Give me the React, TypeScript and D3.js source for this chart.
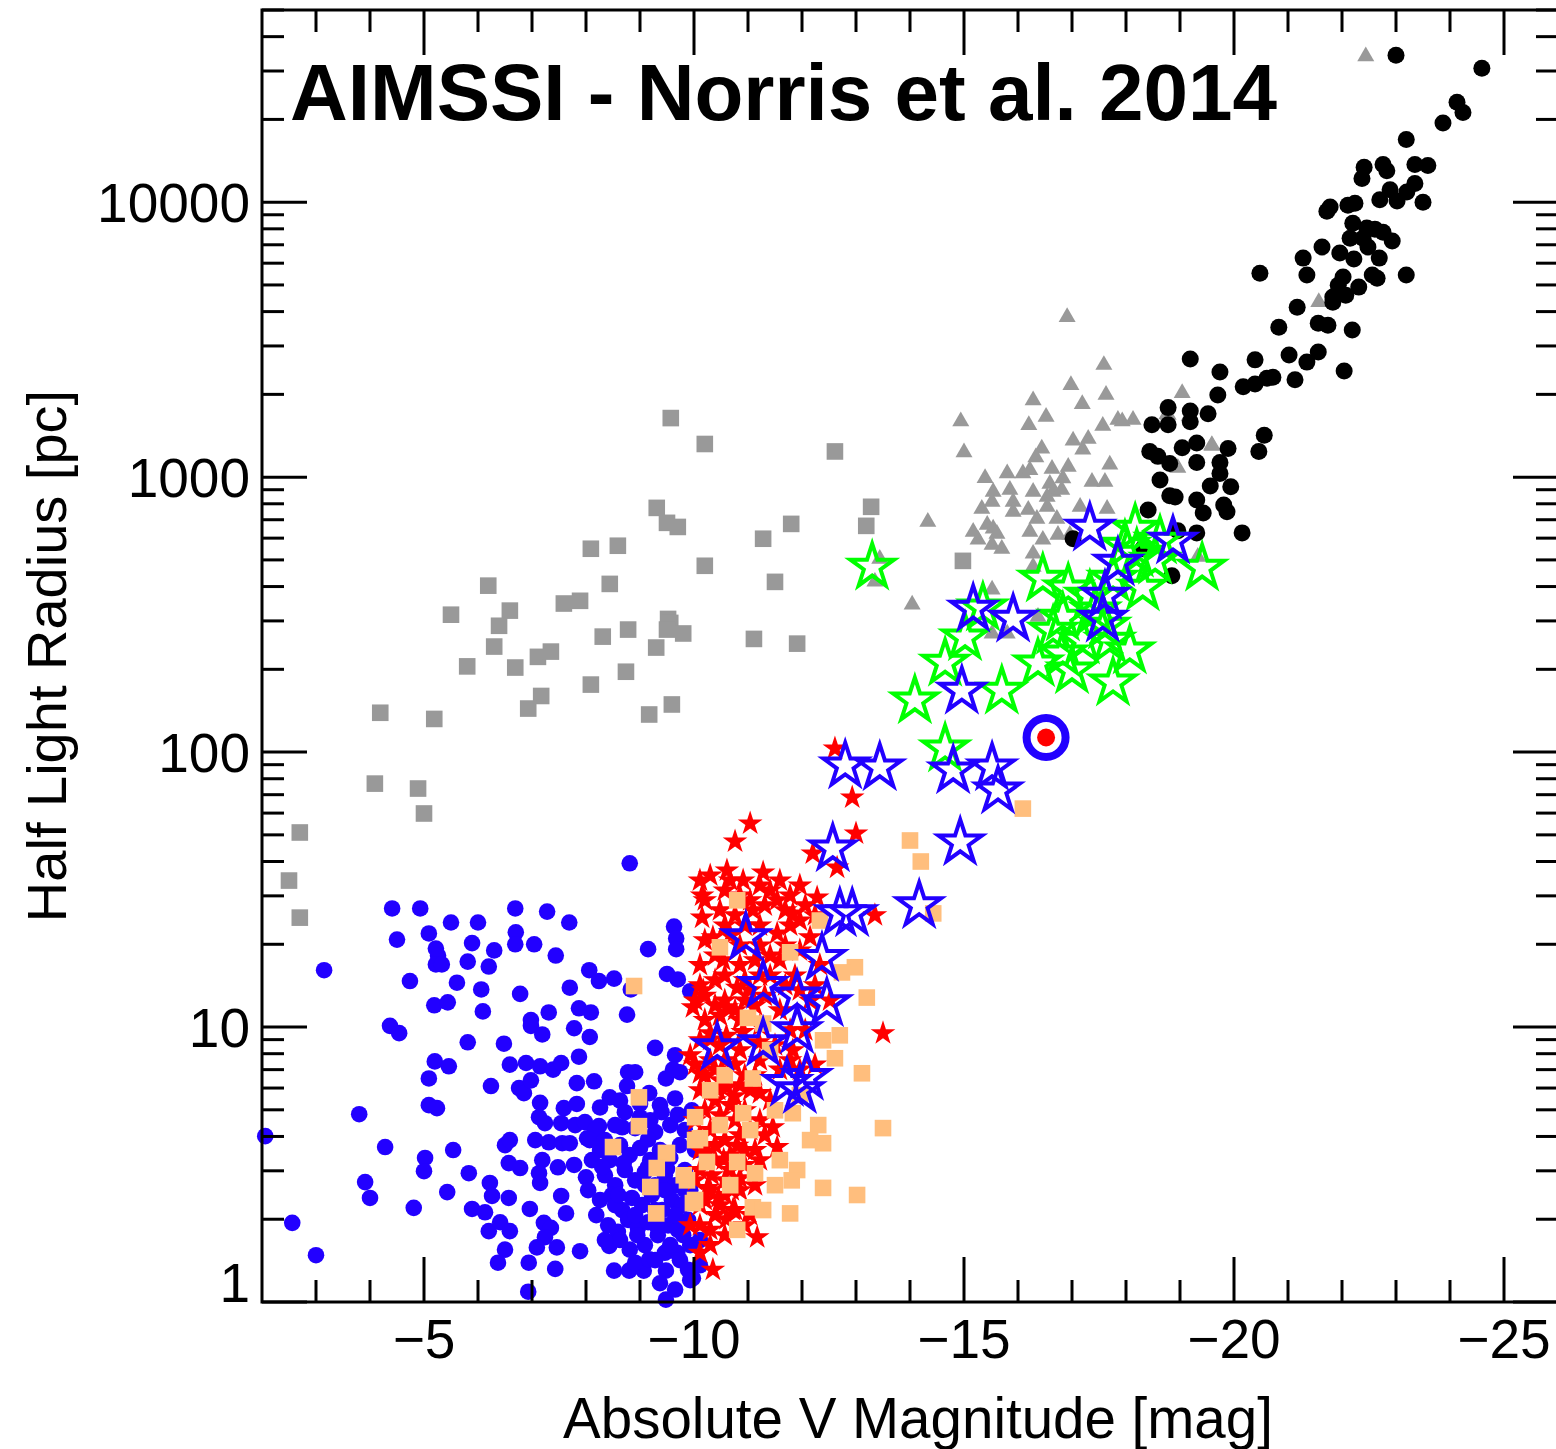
import React from 'react';
import * as d3 from 'd3';

// [absolute V magnitude, half light radius (pc)]
const globularClusters: [number, number][] = [
  [-8.81, 39.4], [-4.41, 27.0], [-4.93, 27.0], [-6.69, 27.0], [-7.28, 26.3], [-5.5, 24.0], [-6.0, 24.0], [-7.69, 24.0],
  [-9.63, 23.2], [-4.5, 20.8], [-5.09, 21.9], [-6.7, 22.1], [-5.89, 20.2], [-6.69, 20.0], [-7.04, 20.0], [-9.67, 21.0],
  [-9.67, 19.2], [-9.15, 19.2], [-5.22, 19.3], [-5.26, 18.2], [-5.22, 16.9], [-5.33, 16.9], [-6.3, 19.0], [-7.44, 18.2],
  [-5.81, 17.3], [-6.2, 16.6], [-3.15, 16.1], [-4.74, 14.7], [-5.61, 14.5], [-6.06, 13.7], [-6.78, 13.2], [-8.06, 16.1],
  [-8.24, 14.7], [-8.52, 15.0], [-7.7, 13.9], [-8.83, 13.7], [-9.5, 15.6], [-9.7, 14.9], [-9.93, 13.5], [-5.19, 12.0],
  [-5.44, 12.3], [-6.09, 11.4], [-7.31, 11.3], [-7.87, 11.7], [-8.09, 11.3], [-8.76, 11.1], [-4.37, 10.1], [-4.54, 9.5],
  [-6.98, 10.6], [-6.98, 10.1], [-7.19, 9.4], [-7.78, 9.9], [-8.07, 9.2], [-5.81, 8.8], [-6.48, 8.7], [-9.28, 8.4],
  [-9.65, 7.9], [-5.2, 7.5], [-5.46, 7.2], [-6.59, 7.3], [-6.89, 7.4], [-7.15, 7.2], [-7.39, 7.0], [-7.54, 7.4],
  [-7.87, 7.8], [-5.09, 6.5], [-6.24, 6.1], [-6.76, 6.0], [-6.85, 5.75], [-6.98, 6.4], [-7.83, 6.25], [-8.15, 6.35],
  [-8.78, 6.85], [-8.91, 6.85], [-8.76, 6.1], [-9.48, 6.5], [-9.61, 7.0], [-9.74, 6.85], [-5.09, 5.2], [-5.24, 5.07],
  [-3.8, 4.82], [-7.15, 5.3], [-7.13, 4.7], [-7.24, 4.47], [-7.59, 5.07], [-7.83, 5.25], [-8.26, 5.1], [-8.44, 5.55],
  [-8.63, 5.4], [-9.0, 5.25], [-9.17, 5.75], [-9.65, 5.5], [-2.06, 4.01], [-4.28, 3.66], [-5.02, 3.34], [-5.0, 2.99],
  [-5.54, 3.57], [-5.83, 2.94], [-6.5, 3.72], [-6.59, 3.88], [-7.06, 3.88], [-7.31, 3.81], [-7.56, 3.78], [-7.7, 3.78],
  [-7.54, 4.47], [-7.8, 4.4], [-7.98, 4.51], [-8.24, 4.36], [-8.02, 3.94], [-8.67, 4.32], [-6.57, 3.2], [-6.78, 3.07],
  [-7.19, 3.28], [-7.48, 3.09], [-7.78, 3.15], [-8.0, 2.84], [-7.13, 2.94], [-7.15, 2.71], [-3.91, 2.73], [-4.0, 2.39],
  [-5.43, 2.51], [-4.81, 2.2], [-6.22, 2.71], [-6.26, 2.43], [-6.57, 2.39], [-5.89, 2.18], [-6.13, 2.12], [-6.96, 2.18],
  [-7.54, 2.43], [-7.63, 2.1], [-2.56, 1.94], [-6.2, 1.81], [-6.41, 1.95], [-6.59, 1.81], [-7.22, 1.94], [-7.35, 1.86],
  [-7.24, 1.72], [-7.09, 1.58], [-7.46, 1.58], [-7.89, 1.53], [-8.43, 1.6], [-6.5, 1.55], [-6.37, 1.39], [-6.94, 1.39],
  [-7.43, 1.32], [-3.0, 1.48], [-6.93, 1.09], [-8.52, 1.3], [-8.8, 1.3], [-9.07, 1.3], [-8.91, 1.39], [-9.17, 1.43],
  [-9.48, 1.3], [-9.46, 1.51], [-9.69, 1.51], [-9.48, 1.02],
  [-8.26, 3.57], [-8.44, 3.28], [-8.63, 3.72], [-8.81, 3.42], [-9.0, 3.63], [-9.19, 3.28], [-9.37, 3.57], [-9.56, 3.34],
  [-9.74, 3.72], [-8.35, 2.89], [-8.54, 2.66], [-8.72, 3.02], [-8.91, 2.77], [-9.09, 2.97], [-9.28, 2.66], [-9.46, 2.89],
  [-9.65, 2.66], [-9.83, 3.02], [-8.26, 2.35], [-8.48, 2.45], [-8.67, 2.16], [-8.85, 2.39], [-9.04, 2.25], [-9.22, 2.45],
  [-9.41, 2.16], [-9.59, 2.35], [-9.78, 2.25], [-8.41, 1.9], [-8.59, 1.8], [-8.78, 1.99], [-8.96, 1.86], [-9.15, 1.95],
  [-9.33, 1.75], [-9.52, 1.9], [-9.7, 1.83], [-9.89, 1.99], [-8.17, 4.22], [-8.54, 4.4], [-8.91, 4.29], [-9.28, 4.15],
  [-9.56, 4.4], [-9.83, 4.22], [-8.63, 1.68], [-9.09, 1.61], [-9.93, 1.61], [-10.11, 1.36], [-9.93, 2.55], [-10.02, 3.57],
  [-9.96, 4.98], [-9.37, 5.2], [-9.19, 4.58], [-8.72, 4.9], [-8.11, 3.28], [-8.04, 2.55], [-8.19, 2.07], [-10.11, 1.68],
  [-9.98, 1.22],
  [-8.07, 3.88], [-8.35, 3.88], [-8.54, 2.25], [-8.91, 2.07], [-9.28, 2.16], [-9.65, 2.07], [-9.09, 2.66], [-9.46, 2.55],
  [-9.83, 2.55], [-8.35, 1.68], [-8.81, 1.55], [-9.56, 1.61], [-9.74, 1.42], [-9.28, 1.42], [-9.89, 1.31], [-9.93, 1.2],
  [-9.65, 1.11], [-9.37, 1.17], [-8.7, 3.2], [-9.15, 3.1], [-9.5, 3.05], [-9.0, 4.7], [-9.4, 4.9], [-8.3, 3.1],
  [-8.6, 2.45], [-9.3, 1.9], [-8.95, 1.75], [-9.8, 1.75], [-9.15, 3.9], [-9.7, 4.8],
];

const compactStellarSystems: [number, number][] = [
  [-12.61, 103], [-12.93, 68.4], [-11.04, 55.0], [-10.76, 47.3], [-13.0, 50.6], [-12.2, 42.8], [-12.65, 38.0], [-10.61, 37.1],
  [-11.28, 36.5], [-10.91, 34.1], [-11.59, 34.1], [-11.96, 32.7], [-10.15, 30.1], [-12.28, 29.6], [-10.48, 26.6], [-11.09, 26.6],
  [-11.54, 28.9], [-11.83, 25.9], [-13.35, 25.5], [-10.15, 25.0], [-10.35, 21.2], [-11.54, 21.9], [-12.15, 21.2], [-10.54, 17.5],
  [-11.59, 17.5], [-10.17, 13.6], [-10.8, 13.9], [-9.98, 11.8], [-10.61, 11.8], [-11.59, 11.5], [-13.5, 9.5], [-10.3, 9.5],
  [-11.83, 8.24], [-10.11, 6.79], [-10.61, 6.04], [-11.22, 5.75], [-11.46, 4.32], [-11.54, 3.66], [-10.72, 2.16], [-11.17, 1.72],
  [-10.3, 1.83], [-10.11, 1.51], [-10.35, 1.31],
  [-10.11, 34.1], [-10.3, 35.6], [-10.57, 31.4], [-10.85, 30.1], [-11.22, 32.7], [-11.78, 30.1], [-12.06, 27.7], [-11.31, 27.7],
  [-10.76, 25.5], [-10.94, 23.4], [-11.78, 23.4], [-11.96, 19.0], [-11.22, 19.8], [-10.39, 18.2], [-10.11, 16.8], [-10.85, 16.8],
  [-11.41, 15.4], [-11.87, 15.4], [-10.39, 14.8], [-11.04, 13.6], [-10.2, 10.6], [-10.48, 11.0], [-10.85, 10.6], [-11.22, 10.1],
  [-10.11, 8.95], [-10.48, 8.59], [-10.85, 8.24], [-11.22, 7.57], [-11.59, 7.0], [-10.3, 7.57], [-9.93, 7.9], [-10.11, 5.89],
  [-10.39, 5.42], [-10.67, 5.2], [-10.94, 4.98], [-10.02, 4.58], [-10.3, 4.22], [-10.57, 3.88], [-10.85, 4.04], [-11.13, 3.57],
  [-10.11, 3.57], [-10.39, 3.28], [-10.67, 3.02], [-10.94, 3.15], [-10.02, 2.77], [-10.3, 2.55], [-10.57, 2.45], [-10.85, 2.55],
  [-10.11, 2.25], [-10.39, 2.07], [-9.93, 1.9], [-11.22, 4.58], [-11.41, 5.42], [-11.13, 6.68], [-11.78, 9.73], [-12.15, 12.5],
  [-12.33, 16.8], [-11.96, 13.6],
  [-10.02, 12.5], [-10.2, 13.0], [-10.39, 12.0], [-10.57, 12.5], [-10.76, 11.5], [-10.94, 12.5], [-11.13, 12.0], [-11.31, 13.0],
  [-10.02, 7.3], [-10.2, 6.68], [-10.39, 7.0], [-10.57, 7.57], [-10.76, 7.3], [-10.94, 6.68], [-11.04, 5.89], [-10.85, 6.14],
  [-10.48, 6.41], [-10.2, 4.98], [-10.48, 4.78], [-10.76, 4.58], [-11.04, 4.22], [-11.31, 4.04], [-10.11, 4.04], [-10.39, 3.72],
  [-10.67, 3.42], [-10.94, 3.57], [-11.22, 3.28], [-10.11, 3.02], [-10.33, 2.89], [-10.57, 2.77], [-10.85, 2.82], [-11.13, 2.66],
  [-10.2, 2.35], [-10.48, 2.25], [-10.76, 2.16], [-11.04, 2.07], [-10.3, 1.61], [-10.57, 1.75], [-10.11, 1.9], [-10.94, 1.9],
  [-10.2, 28.9], [-10.67, 34.1], [-11.04, 28.9], [-11.41, 31.4], [-11.69, 26.6], [-11.96, 24.4], [-12.24, 25.5], [-10.67, 21.5],
  [-11.22, 23.4], [-11.69, 19.8], [-10.2, 20.7], [-10.57, 23.4], [-10.85, 19.8], [-11.13, 17.5], [-11.41, 18.2], [-10.57, 15.4],
  [-10.94, 14.8], [-11.22, 15.4], [-11.69, 14.2], [-10.11, 14.2], [-12.24, 14.2], [-12.52, 12.5], [-12.06, 9.73], [-12.24, 7.3],
  [-11.78, 7.57], [-11.5, 8.59], [-11.96, 7.0], [-10.3, 9.0], [-10.6, 9.3], [-10.9, 9.6], [-11.2, 8.8], [-10.45, 5.9],
  [-10.75, 5.6], [-10.25, 3.5], [-10.55, 3.3], [-10.8, 3.7], [-10.25, 2.6], [-10.7, 2.55], [-10.45, 2.4], [-10.6, 2.0],
];

const openClusters: [number, number][] = [
  [-16.09, 62.3], [-14.0, 47.7], [-14.2, 40.0], [-14.43, 25.9], [-10.8, 28.9], [-12.33, 24.4], [-10.48, 19.5], [-11.78, 18.7],
  [-12.98, 16.5], [-12.74, 15.8], [-13.2, 12.8], [-11.0, 10.8], [-11.28, 10.3], [-12.7, 9.33], [-12.39, 8.95], [-12.61, 7.7],
  [-13.11, 6.79], [-11.09, 6.5], [-13.5, 4.29], [-12.3, 4.4], [-12.39, 3.78], [-11.5, 4.98], [-11.83, 4.86], [-10.91, 4.86],
  [-11.04, 4.22], [-10.48, 4.4], [-10.11, 3.94], [-9.5, 3.48], [-10.24, 3.23], [-10.8, 3.23], [-11.13, 2.94], [-11.59, 3.28],
  [-11.91, 3.02], [-11.81, 2.77], [-12.39, 2.6], [-13.02, 2.45], [-9.87, 2.77], [-9.98, 2.29], [-11.09, 2.21], [-11.28, 2.16],
  [-11.78, 2.1], [-10.8, 1.83], [-8.89, 14.1], [-8.98, 5.55], [-8.98, 4.36], [-8.5, 3.66], [-9.48, 3.48], [-9.31, 3.07],
  [-9.19, 2.62], [-9.3, 2.1], [-9.81, 2.89], [-10.02, 4.7], [-10.02, 3.88], [-10.02, 2.35], [-10.3, 5.89], [-10.57, 6.68],
  [-11.41, 8.24], [-11.96, 5.65], [-12.15, 3.88], [-11.5, 2.66], [-10.67, 2.66],
];

const dwarfSpheroidals: [number, number][] = [
  [-9.57, 1640], [-10.2, 1320], [-12.61, 1240], [-9.31, 773], [-9.5, 682], [-9.7, 659], [-8.09, 549], [-8.59, 563],
  [-13.28, 780], [-13.19, 665], [-11.28, 597], [-11.8, 676], [-10.2, 476], [-8.44, 409], [-6.19, 403], [-11.5, 416],
  [-7.59, 347], [-7.89, 355], [-5.5, 316], [-6.59, 327], [-6.39, 288], [-8.31, 263], [-8.78, 279], [-9.3, 240],
  [-9.52, 305], [-9.56, 295], [-9.5, 279], [-9.8, 270], [-6.3, 242], [-5.8, 205], [-6.69, 203], [-7.11, 222],
  [-7.35, 232], [-8.74, 196], [-8.09, 176], [-7.17, 160], [-6.93, 144], [-9.17, 137], [-9.59, 149], [-11.11, 258],
  [-11.91, 248], [-4.19, 139], [-5.19, 132], [-4.09, 76.8], [-4.89, 73.7], [-5.0, 59.8], [-2.7, 51.0], [-2.5, 34.1],
  [-2.7, 25.0], [-14.98, 496],
];

const dwarfEllipticals: [number, number][] = [
  [-16.91, 3850], [-17.59, 2580], [-16.98, 2180], [-17.63, 2010], [-17.19, 1860], [-16.28, 1920], [-16.52, 1670], [-16.2, 1560],
  [-14.94, 1610], [-17.85, 1630], [-18.13, 1630], [-17.57, 1550], [-15.0, 1240], [-17.02, 1370], [-17.3, 1390], [-17.2, 1270],
  [-16.44, 1280], [-16.33, 1190], [-17.7, 1120], [-18.78, 1700], [-19.59, 1310], [-18.96, 1090], [-15.39, 1000], [-15.8, 1040],
  [-16.09, 1040], [-16.22, 1070], [-16.63, 1080], [-16.93, 1100], [-16.83, 998], [-16.59, 953], [-17.37, 969], [-17.61, 969],
  [-15.54, 891], [-15.85, 906], [-16.28, 891], [-16.65, 891], [-16.81, 906], [-16.54, 855], [-15.33, 773], [-15.52, 820],
  [-15.91, 820], [-16.19, 767], [-16.54, 786], [-16.72, 711], [-17.15, 786], [-17.65, 773], [-15.91, 754], [-16.35, 711],
  [-15.17, 638], [-15.43, 676], [-15.54, 655], [-15.61, 627], [-15.26, 597], [-15.52, 572], [-15.7, 553], [-16.22, 638],
  [-16.46, 597], [-16.74, 622], [-16.96, 622], [-16.28, 531], [-16.28, 476], [-14.33, 693], [-13.44, 509], [-13.35, 420],
  [-14.04, 347], [-15.52, 393], [-16.37, 313], [-15.52, 272], [-15.8, 272], [-19.33, 517], [-22.44, 34200], [-21.57, 4370],
  [-17.93, 1610], [-19.04, 2040], [-18.76, 1710], [-19.17, 1680], [-19.59, 1320],
];

const ellipticals: [number, number][] = [
  [-23.0, 34200], [-24.59, 30700], [-24.13, 23100], [-24.24, 21200], [-23.87, 19400], [-23.19, 16900], [-22.41, 13400], [-22.37, 12200],
  [-22.76, 13700], [-22.83, 13000], [-23.35, 13700], [-23.59, 13600], [-23.35, 11700], [-23.2, 10900], [-22.89, 11100], [-22.7, 10200],
  [-23.02, 10100], [-23.5, 10000], [-21.78, 9600], [-21.72, 9270], [-22.11, 9750], [-22.24, 9910], [-22.2, 8390], [-22.46, 8050],
  [-22.61, 7980], [-22.76, 7780], [-22.15, 7400], [-22.39, 7400], [-22.93, 7220], [-22.48, 6870], [-21.63, 6870], [-21.96, 6530],
  [-22.22, 6210], [-22.69, 6260], [-21.28, 6260], [-21.35, 5430], [-20.48, 5520], [-22.02, 5340], [-21.93, 4990], [-22.56, 5430],
  [-22.65, 5290], [-23.19, 5430], [-22.31, 4910], [-21.83, 4520], [-22.07, 4590], [-21.83, 4330], [-21.17, 4150], [-21.56, 3630],
  [-21.74, 3570], [-22.19, 3430], [-20.83, 3510], [-21.02, 2780], [-21.56, 2850], [-21.35, 2620], [-22.04, 2430], [-20.39, 2670],
  [-20.72, 2310], [-20.61, 2290], [-21.13, 2260], [-20.39, 2180], [-20.17, 2130], [-19.74, 2410], [-19.7, 1990], [-19.19, 2690],
  [-19.52, 1700], [-18.78, 1790], [-18.78, 1550], [-18.48, 1550], [-19.19, 1740], [-19.19, 1590], [-20.56, 1420], [-20.46, 1240],
  [-19.89, 1270], [-19.31, 1330], [-19.04, 1280], [-18.44, 1240], [-18.59, 1190], [-18.81, 1120], [-19.31, 1130], [-19.74, 1130],
  [-19.74, 1030], [-19.56, 929], [-19.94, 922], [-18.63, 977], [-18.81, 855], [-18.91, 847], [-19.31, 826], [-19.81, 792],
  [-19.87, 748], [-19.43, 741], [-18.41, 760], [-18.96, 638], [-19.31, 627], [-20.15, 627], [-18.85, 438], [-17.02, 597],
  [-18.31, 549],
];

const compactEllipticals: [number, number][] = [
  [-13.3, 472], [-18.17, 649], [-19.41, 468], [-16.46, 427], [-16.93, 393], [-17.33, 370], [-17.76, 427], [-18.2, 526],
  [-18.31, 396], [-15.35, 335], [-15.02, 261], [-14.65, 211], [-14.09, 154], [-15.7, 167], [-16.65, 276], [-16.83, 308],
  [-17.2, 254], [-17.7, 254], [-18.07, 234], [-16.37, 210], [-17.0, 198], [-17.76, 179], [-16.83, 228], [-14.65, 103],
  [-17.61, 288], [-17.98, 563], [-18.54, 496], [-18.63, 587], [-17.43, 327],
];

const aimssObjects: [number, number][] = [
  [-17.33, 654], [-18.87, 587], [-17.85, 488], [-17.61, 370], [-17.57, 305], [-15.17, 332], [-15.91, 305], [-14.96, 167],
  [-12.8, 89.3], [-13.44, 87.9], [-14.8, 85.7], [-15.52, 87.9], [-15.63, 72.4], [-14.93, 46.9], [-12.57, 44.6], [-14.17, 27.7],
  [-12.7, 25.9], [-12.93, 25.9], [-10.96, 21.2], [-12.37, 17.8], [-11.28, 14.2], [-11.91, 13.0], [-12.46, 12.2], [-11.91, 9.73],
  [-10.43, 8.44], [-11.28, 8.73], [-11.72, 6.25], [-11.96, 5.89], [-12.09, 6.57],
];

const highlighted: [number, number][] = [[-16.52, 113]];

const xMajorTicks = [-5, -10, -15, -20, -25];
const xTickLabels = ['\u22125', '\u221210', '\u221215', '\u221220', '\u221225'];
const yMajorTicks = [1, 10, 100, 1000, 10000];
const yTickLabels = ['1', '10', '100', '1000', '10000'];

const title = 'AIMSSI - Norris et al. 2014';
const xTitle = 'Absolute V Magnitude [mag]';
const yTitle = 'Half Light Radius [pc]';

function starPath(cx: number, cy: number, R: number, ratio = 0.382) {
  const pts: string[] = [];
  for (let i = 0; i < 10; i++) {
    const r = i % 2 === 0 ? R : R * ratio;
    const a = -Math.PI / 2 + (i * Math.PI) / 5;
    pts.push(`${(cx + r * Math.cos(a)).toFixed(2)},${(cy + r * Math.sin(a)).toFixed(2)}`);
  }
  return 'M' + pts.join('L') + 'Z';
}

function triPath(cx: number, cy: number, s: number) {
  const h = s * 0.866;
  return `M${cx},${cy - h * 0.6}L${cx + s / 2},${cy + h * 0.4}L${cx - s / 2},${cy + h * 0.4}Z`;
}

export default function App() {
  const W = 1556, H = 1449;
  const left = 262, right = 1558, top = 10, bottom = 1302;
  const x = d3.scaleLinear().domain([-2, -26]).range([left, right]);
  const y = d3.scaleLog().domain([1, 50000]).range([bottom, top]);
  const font = '"Liberation Sans", Arial, Helvetica, sans-serif';

  const xMinor = d3.range(-3, -26, -1).filter((v) => v % 5 !== 0);
  const yMinor: number[] = [];
  yMajorTicks.forEach((d) => {
    for (let m = 2; m <= 9; m++) if (d * m <= 50000) yMinor.push(d * m);
  });

  const blue = '#2200FF';
  const tickW = 3;
  const majorLen = 45, minorLen = 22;

  return (
    <svg width={W} height={H} viewBox={`0 0 ${W} ${H}`} style={{ position: 'absolute', left: 0, top: 0, display: 'block', background: '#fff' }}>
      <rect x={0} y={0} width={W} height={H} fill="#fff" />
      <g>
        {dwarfSpheroidals.map(([m, r], i) => (
          <rect key={'ds' + i} x={x(m) - 8.3} y={y(r) - 8.3} width={16.6} height={16.6} fill="#999999" />
        ))}
        {dwarfEllipticals.map(([m, r], i) => (
          <path key={'de' + i} d={triPath(x(m), y(r), 17)} fill="#999999" />
        ))}
        {ellipticals.map(([m, r], i) => (
          <circle key={'e' + i} cx={x(m)} cy={y(r)} r={8.5} fill="#000" />
        ))}
        {globularClusters.map(([m, r], i) => (
          <circle key={'gc' + i} cx={x(m)} cy={y(r)} r={8.3} fill={blue} />
        ))}
        {compactStellarSystems.map(([m, r], i) => (
          <path key={'cs' + i} d={starPath(x(m), y(r), 13)} fill="#FF0000" />
        ))}
        {openClusters.map(([m, r], i) => (
          <rect key={'oc' + i} x={x(m) - 8.3} y={y(r) - 8.3} width={16.6} height={16.6} fill="#FFBE7D" />
        ))}
        {compactEllipticals.map(([m, r], i) => (
          <path key={'ce' + i} d={starPath(x(m), y(r), 23)} fill="none" stroke="#00FF00" strokeWidth={4} />
        ))}
        {aimssObjects.map(([m, r], i) => (
          <path key={'ai' + i} d={starPath(x(m), y(r), 23)} fill="none" stroke={blue} strokeWidth={4} />
        ))}
        {highlighted.map(([m, r], i) => (
          <g key={'h' + i}>
            <circle cx={x(m)} cy={y(r)} r={19.5} fill="#fff" stroke={blue} strokeWidth={8} />
            <circle cx={x(m)} cy={y(r)} r={9} fill="#FF0000" />
          </g>
        ))}
      </g>
      <rect x={left} y={top} width={right - left} height={bottom - top} fill="none" stroke="#000" strokeWidth={3} />
      {xMajorTicks.map((v) => (
        <g key={'xM' + v}>
          <line x1={x(v)} x2={x(v)} y1={bottom} y2={bottom - majorLen} stroke="#000" strokeWidth={tickW} />
          <line x1={x(v)} x2={x(v)} y1={top} y2={top + majorLen} stroke="#000" strokeWidth={tickW} />
        </g>
      ))}
      {xMinor.map((v) => (
        <g key={'xm' + v}>
          <line x1={x(v)} x2={x(v)} y1={bottom} y2={bottom - minorLen} stroke="#000" strokeWidth={tickW} />
          <line x1={x(v)} x2={x(v)} y1={top} y2={top + minorLen} stroke="#000" strokeWidth={tickW} />
        </g>
      ))}
      {yMajorTicks.map((v) => (
        <g key={'yM' + v}>
          <line x1={left} x2={left + majorLen} y1={y(v)} y2={y(v)} stroke="#000" strokeWidth={tickW} />
          <line x1={right} x2={right - majorLen} y1={y(v)} y2={y(v)} stroke="#000" strokeWidth={tickW} />
        </g>
      ))}
      {yMinor.map((v) => (
        <g key={'ym' + v}>
          <line x1={left} x2={left + minorLen} y1={y(v)} y2={y(v)} stroke="#000" strokeWidth={tickW} />
          <line x1={right} x2={right - minorLen} y1={y(v)} y2={y(v)} stroke="#000" strokeWidth={tickW} />
        </g>
      ))}
      {xMajorTicks.map((v, i) => (
        <text key={'xl' + v} x={x(v)} y={1358} textAnchor="middle" fontFamily={font} fontSize={55} fill="#000">
          {xTickLabels[i]}
        </text>
      ))}
      {yMajorTicks.map((v, i) => (
        <text key={'yl' + v} x={250} y={i === 0 ? y(v) : y(v) + 19.5} textAnchor="end" fontFamily={font} fontSize={55} fill="#000">
          {yTickLabels[i]}
        </text>
      ))}
      <text x={290} y={120} fontFamily={font} fontWeight="bold" fontSize={80} fill="#000">{title}</text>
      <text x={918} y={1438} textAnchor="middle" fontFamily={font} fontSize={56.5} fill="#000">{xTitle}</text>
      <text transform={`translate(66,656) rotate(-90)`} textAnchor="middle" fontFamily={font} fontSize={56} fill="#000">{yTitle}</text>
    </svg>
  );
}
